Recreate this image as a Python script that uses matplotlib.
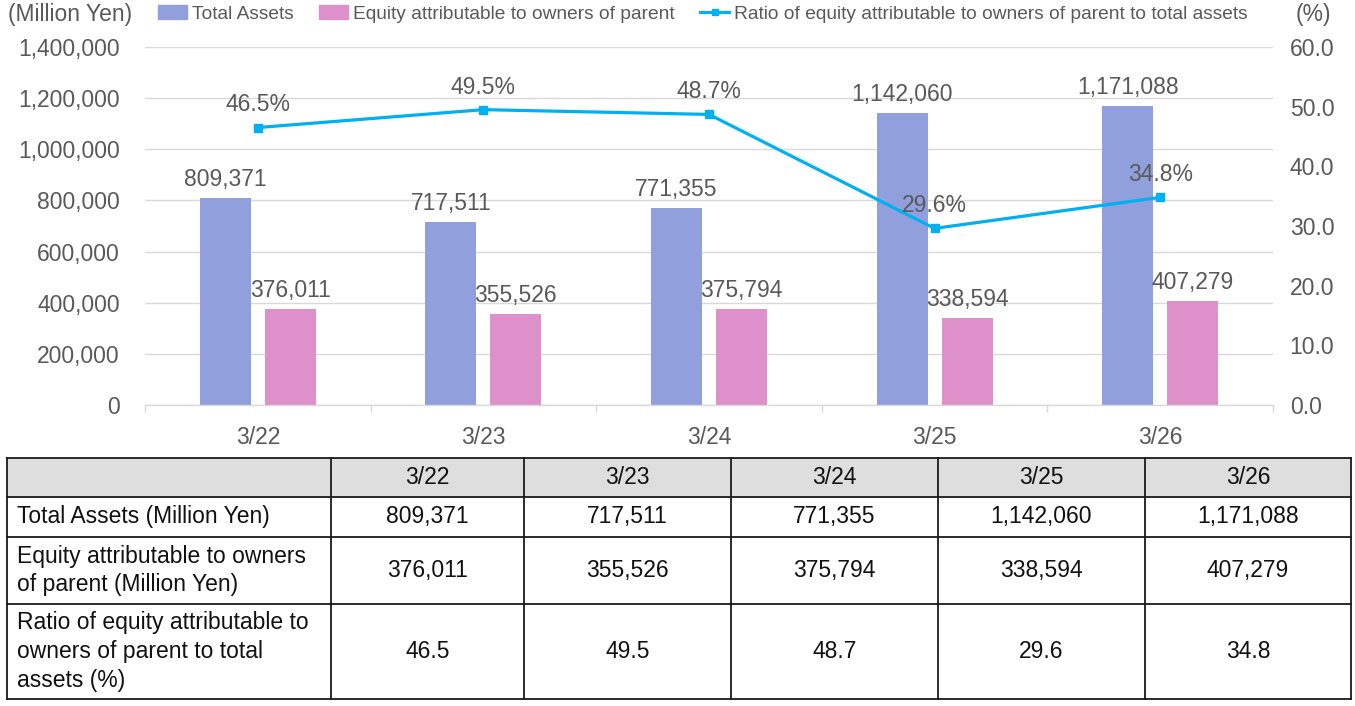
import matplotlib.pyplot as plt
from matplotlib.lines import Line2D
from matplotlib.patches import Patch, Rectangle

plt.rcParams['font.family'] = ['Liberation Sans', 'DejaVu Sans']

# data
years = ['3/22', '3/23', '3/24', '3/25', '3/26']
total_assets = [809371, 717511, 771355, 1142060, 1171088]
equity = [376011, 355526, 375794, 338594, 407279]
ratio = [46.5, 49.5, 48.7, 29.6, 34.8]

series_names = ['Total Assets', 'Equity attributable to owners of parent',
                'Ratio of equity attributable to owners of parent to total assets']
row_labels = ['Total Assets (Million Yen)',
              'Equity attributable to owners\nof parent (Million Yen)',
              'Ratio of equity attributable to\nowners of parent to total\nassets (%)']

c_assets = '#929FDD'
c_equity = '#DD90C9'
c_ratio = '#00B0F0'
c_text = '#595959'
c_grid = '#D9D9D9'
fs = 16.5

W, H = 1355, 706
fig = plt.figure(figsize=(W / 100, H / 100), dpi=100)

# chart area
ax = fig.add_axes([145 / W, 1 - 405 / H, 1128 / W, 358 / H])
x = list(range(len(years)))
bw = 0.226
off = 0.144
b1 = ax.bar([i - off for i in x], total_assets, bw, color=c_assets, zorder=2)
b2 = ax.bar([i + off for i in x], equity, bw, color=c_equity, zorder=2)
ax.bar_label(b1, labels=[f'{v:,}' for v in total_assets], padding=5,
             fontsize=fs, color=c_text)
ax.bar_label(b2, labels=[f'{v:,}' for v in equity], padding=5,
             fontsize=fs, color=c_text)

ax.set_xlim(-0.5, len(years) - 0.5)
ax.set_ylim(0, 1400000)
ax.set_yticks(range(0, 1400001, 200000))
ax.set_yticklabels([f'{v:,}' for v in range(0, 1400001, 200000)])
ax.set_xticks(x)
ax.set_xticklabels(years)
ax.set_xticks([i - 0.5 for i in range(len(years) + 1)], minor=True)
ax.tick_params(axis='x', which='major', length=0, pad=15, labelsize=fs, labelcolor=c_text)
ax.tick_params(axis='x', which='minor', length=5, color=c_grid, width=1)
ax.tick_params(axis='y', length=0, pad=18, labelsize=fs, labelcolor=c_text)
ax.grid(axis='y', color=c_grid, lw=1, zorder=0)
ax.set_axisbelow(True)
for s in ['top', 'right', 'left']:
    ax.spines[s].set_visible(False)
ax.spines['bottom'].set_color(c_grid)
ax.spines['bottom'].set_linewidth(1)

ax2 = ax.twinx()
ax2.plot(x, ratio, color=c_ratio, lw=2.3, marker='s', markersize=6, zorder=3)
for i, v in zip(x, ratio):
    ax2.annotate(f'{v}%', (i, v), xytext=(0, 8), textcoords='offset points',
                 ha='center', va='bottom', fontsize=fs, color=c_text)
ax2.set_ylim(0, 60)
ax2.set_yticks(range(0, 61, 10))
ax2.set_yticklabels([f'{v:.1f}' for v in range(0, 61, 10)])
ax2.tick_params(axis='y', length=0, pad=12, labelsize=fs, labelcolor=c_text)
for s in ax2.spines.values():
    s.set_visible(False)

fig.text(8 / W, 1 - 15 / H, '(Million Yen)', fontsize=fs, color=c_text, ha='left', va='center')
fig.text(1313 / W, 1 - 15 / H, '(%)', fontsize=fs, color=c_text, ha='center', va='center')

handles = [Patch(color=c_assets), Patch(color=c_equity),
           Line2D([], [], color=c_ratio, lw=2.3, marker='s', markersize=5)]
fig.legend(handles, series_names, loc='center left', bbox_to_anchor=(158 / W, 1 - 14 / H),
           ncol=3, frameon=False, fontsize=13.8, labelcolor=c_text,
           handlelength=1.5, handleheight=0.7, handletextpad=0.25, columnspacing=1.35,
           borderpad=0, borderaxespad=0)

# table
tb = fig.add_axes([0, 0, 1, 1])
tb.set_xlim(0, W)
tb.set_ylim(H, 0)
tb.axis('off')
col_edges = [7, 331, 524, 731, 938, 1145, 1351]
row_edges = [458, 497, 537, 604, 699]
tb.add_patch(Rectangle((col_edges[0], row_edges[0]), col_edges[-1] - col_edges[0],
                       row_edges[1] - row_edges[0], color='#DEDEDE', lw=0))
for yy in row_edges:
    tb.plot([col_edges[0], col_edges[-1]], [yy, yy], color='#1A1A1A', lw=1.3)
for xx in col_edges:
    tb.plot([xx, xx], [row_edges[0], row_edges[-1]], color='#1A1A1A', lw=1.3)

rows = [[f'{v:,}' for v in total_assets],
        [f'{v:,}' for v in equity],
        [f'{v}' for v in ratio]]
tfs = 16.5
for j, yr in enumerate(years):
    cx = (col_edges[j + 1] + col_edges[j + 2]) / 2
    tb.text(cx, (row_edges[0] + row_edges[1]) / 2, yr, ha='center', va='center',
            fontsize=tfs, color='#111111')
for r, (lab, vals) in enumerate(zip(row_labels, rows)):
    cy = (row_edges[r + 1] + row_edges[r + 2]) / 2
    tb.text(17, cy, lab, ha='left', va='center', fontsize=tfs, color='#111111',
            linespacing=1.32)
    for j, v in enumerate(vals):
        cx = (col_edges[j + 1] + col_edges[j + 2]) / 2
        tb.text(cx, cy, v, ha='center', va='center', fontsize=tfs, color='#111111')

fig.savefig('out.png', dpi=100)
